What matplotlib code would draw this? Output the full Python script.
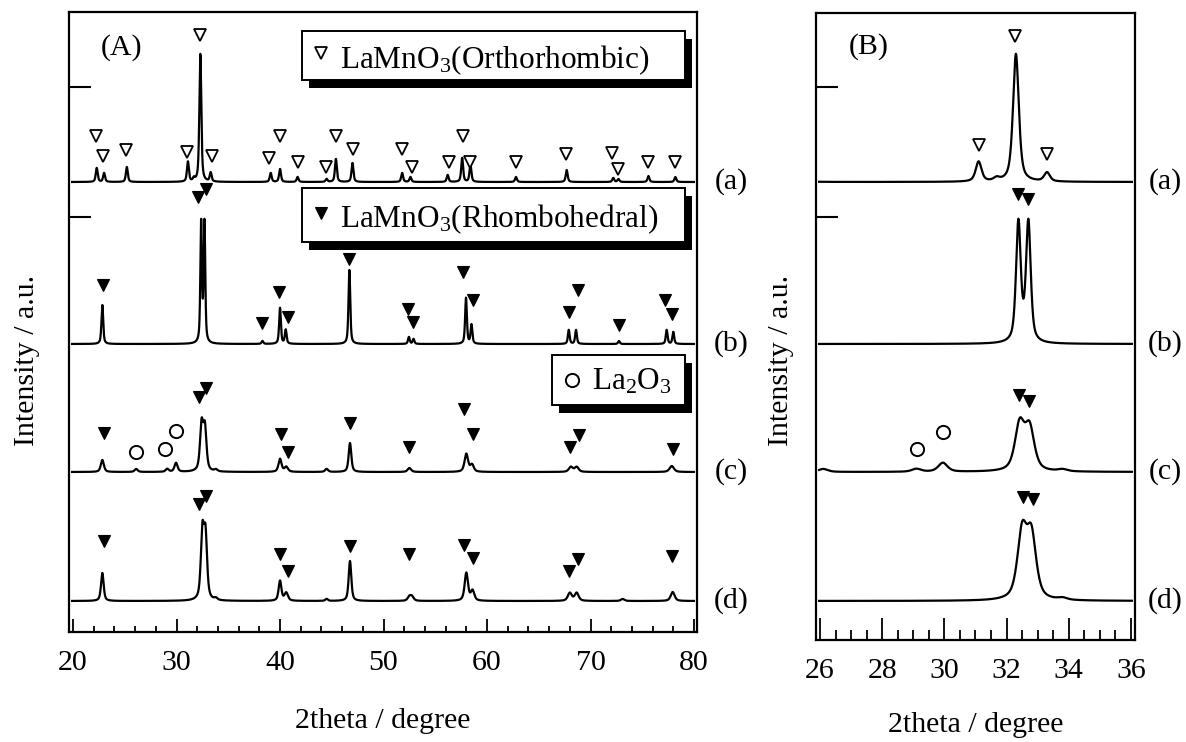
import numpy as np
import matplotlib
matplotlib.use("Agg")
import matplotlib.pyplot as plt
from matplotlib.patches import Rectangle

plt.rcParams['font.family'] = ['Liberation Serif', 'DejaVu Serif']
plt.rcParams['mathtext.fontset'] = 'custom'
plt.rcParams['mathtext.rm'] = 'Liberation Serif'
plt.rcParams['mathtext.default'] = 'regular'

# ---------------- data ----------------
sample_labels = ['(a)', '(b)', '(c)', '(d)']
sample_offsets = [560, 398, 270, 141]          # vertical offsets of the stacked patterns

# peak lists: position (2theta), height (a.u.), fwhm (deg)
a_pos = [22.29, 23.0, 25.2, 31.1, 31.68, 32.30, 33.3, 39.1, 40.0, 41.7, 44.5, 45.4, 47.0,
         51.8, 52.6, 56.2, 57.6, 58.4, 62.8, 67.7, 72.2, 72.7, 75.6, 78.2]
a_hgt = [14, 9, 15, 20, 3, 128, 9, 9, 13, 5, 3, 23, 19,
         9, 5, 7, 24, 17, 5, 12, 4, 3, 6, 5]
a_fwhm = [0.22] * len(a_pos)

b_pos = [22.83, 32.38, 32.70, 38.3, 40.0, 40.55, 46.70, 52.45, 52.9, 57.97, 58.5,
         67.9, 68.6, 72.75, 77.36, 78.0]
b_hgt = [39, 120, 120, 3, 36, 14, 74, 7, 5, 46, 19, 14, 14, 3, 14, 12]
b_fwhm = [0.2, 0.18, 0.18] + [0.2] * 13

c_pos = [22.83, 26.1, 29.1, 29.95, 32.42, 32.74, 33.8, 40.0, 40.6, 44.5, 46.76, 52.5,
         58.0, 58.55, 68.1, 68.66, 77.85]
c_hgt = [12, 3, 3, 9, 46, 42, 2, 13, 5, 3, 29, 4, 18, 7, 5, 5, 6]
c_fwhm = [0.35, 0.35, 0.35, 0.35, 0.36, 0.36, 0.35, 0.35, 0.4, 0.35, 0.3, 0.4,
          0.4, 0.4, 0.45, 0.45, 0.5]

d_pos = [22.83, 32.5, 32.8, 33.8, 40.0, 40.6, 44.5, 46.76, 52.5, 52.75, 58.0, 58.6,
         68.0, 68.66, 73.1, 77.94]
d_hgt = [28, 66, 62, 2, 20, 8, 2, 40, 4, 4, 28, 10, 8, 8, 2, 9]
d_fwhm = [0.3, 0.36, 0.36, 0.35, 0.32, 0.4, 0.3, 0.3, 0.4, 0.4, 0.38, 0.4, 0.45, 0.45, 0.4, 0.45]

# phase markers, panel A: position, height above baseline
a_tri_open_pos = [22.22, 22.93, 25.12, 30.99, 32.27, 33.40, 38.97, 40.0, 41.71, 44.42, 45.41,
                  47.08, 51.76, 52.72, 56.36, 57.71, 58.36, 62.80, 67.60, 72.05, 72.69, 75.58, 78.16]
a_tri_open_hgt = [46, 26, 32, 30, 147, 26, 24, 46, 20, 15, 46, 33, 33, 15, 20, 46, 20, 20,
                  28, 29, 13, 20, 20]
b_tri_pos = [22.93, 32.11, 32.82, 38.29, 39.93, 40.74, 46.70, 52.40, 52.82, 57.71, 58.62,
             67.96, 68.76, 72.75, 77.20, 77.84]
b_tri_hgt = [59, 147, 155, 21, 52, 27, 85, 35, 22, 72, 44, 32, 54, 19, 44, 30]
c_tri_pos = [23.03, 32.2, 32.82, 40.07, 40.81, 46.76, 52.46, 57.81, 58.68, 68.02, 68.89, 77.94]
c_tri_hgt = [39, 75, 84, 38, 20, 49, 25, 63, 38, 25, 37, 23]
c_circ_pos = [26.09, 28.89, 29.95]
c_circ_hgt = [20, 23, 41]
d_tri_pos = [23.03, 32.2, 32.82, 40.0, 40.8, 46.76, 52.46, 57.78, 58.62, 67.96, 68.82, 77.84]
d_tri_hgt = [60, 97, 105, 47, 30, 55, 47, 56, 43, 30, 42, 45]

# phase markers, panel B
aB_tri_open_pos = [31.11, 32.27, 33.29]
aB_tri_open_hgt = [37, 146, 28]
bB_tri_pos = [32.36, 32.68]
bB_tri_hgt = [150, 145]
cB_tri_pos = [32.40, 32.72]
cB_tri_hgt = [77, 71]
cB_circ_pos = [29.13, 29.97]
cB_circ_hgt = [23, 40]
dB_tri_pos = [32.52, 32.86]
dB_tri_hgt = [104, 102]

legend_texts = ['LaMnO$_3$(Orthorhombic)', 'LaMnO$_3$(Rhombohedral)', 'La$_2$O$_3$']

xlimA = (19.61, 80.29)
xlimB = (25.87, 36.13)
yticks_pos = [525, 655]


def pattern(x, pos, hgt, fwhm, eta=0.6):
    y = np.zeros_like(x)
    for p, h, w in zip(pos, hgt, fwhm):
        u = (x - p) / w
        y += h * (eta / (1 + 4 * u ** 2) + (1 - eta) * np.exp(-4 * np.log(2) * u ** 2))
    return y


W, H = 1186, 742
fig = plt.figure(figsize=(W / 100, H / 100), dpi=100)


def px_axes(l, r, t, b):
    return fig.add_axes([l / W, 1 - b / H, (r - l) / W, (b - t) / H])


axA = px_axes(69, 697, 12, 632)
axB = px_axes(816, 1135, 13, 640)

samples = [(a_pos, a_hgt, a_fwhm), (b_pos, b_hgt, b_fwhm), (c_pos, c_hgt, c_fwhm), (d_pos, d_hgt, d_fwhm)]

xA = np.linspace(xlimA[0] + 0.3, xlimA[1] - 0.3, 8000)
xB = np.linspace(xlimB[0] + 0.1, xlimB[1] - 0.1, 3000)
for (pos, hgt, fw), off in zip(samples, sample_offsets):
    axA.plot(xA, off + pattern(xA, pos, hgt, fw), color='black', lw=1.6)
    axB.plot(xB, off + pattern(xB, pos, hgt, fw), color='black', lw=1.6)

tri_ms = 9
open_kw = dict(marker='v', ms=tri_ms, mfc='white', mec='black', mew=1.3, ls='none')
fill_kw = dict(marker='v', ms=tri_ms, mfc='black', mec='black', mew=0.8, ls='none')
circ_kw = dict(marker='o', ms=9.5, mfc='white', mec='black', mew=1.4, ls='none')

oa, ob, oc, od = sample_offsets
axA.plot(a_tri_open_pos, np.array(a_tri_open_hgt) + oa, **open_kw)
axA.plot(b_tri_pos, np.array(b_tri_hgt) + ob, **fill_kw)
axA.plot(c_tri_pos, np.array(c_tri_hgt) + oc, **fill_kw)
axA.plot(c_circ_pos, np.array(c_circ_hgt) + oc, **circ_kw)
axA.plot(d_tri_pos, np.array(d_tri_hgt) + od, **fill_kw)

axB.plot(aB_tri_open_pos, np.array(aB_tri_open_hgt) + oa, **open_kw)
axB.plot(bB_tri_pos, np.array(bB_tri_hgt) + ob, **fill_kw)
axB.plot(cB_tri_pos, np.array(cB_tri_hgt) + oc, **fill_kw)
axB.plot(cB_circ_pos, np.array(cB_circ_hgt) + oc, **circ_kw)
axB.plot(dB_tri_pos, np.array(dB_tri_hgt) + od, **fill_kw)

fs = 21.5
axA.set_xlim(*xlimA)
axA.set_ylim(742 - 632, 742 - 12)
axB.set_xlim(*xlimB)
axB.set_ylim(742 - 640, 742 - 13)

axA.set_xticks(np.arange(20, 81, 10))
axA.set_xticks(np.arange(20, 81, 2), minor=True)
axB.set_xticks(np.arange(26, 37, 2))
axB.set_xticks(np.arange(26, 36.1, 0.5), minor=True)

for ax, maj, mnr in [(axA, 9.5, 4.0), (axB, 16, 7.5)]:
    ax.set_yticks(yticks_pos)
    ax.set_yticklabels([])
    ax.tick_params(axis='x', which='major', direction='in', length=maj, width=1.3,
                   labelsize=fs, pad=13, top=False)
    ax.tick_params(axis='x', which='minor', direction='in', length=mnr, width=1.3, top=False)
    ax.tick_params(axis='y', which='major', direction='in', length=16, width=1.5, right=False)
    for s in ax.spines.values():
        s.set_linewidth(1.6)
    ax.set_xlabel('2theta / degree', fontsize=fs)
    ax.set_ylabel('Intensity / a.u.', fontsize=fs)
    ax.xaxis.label.set_va('center')
    ax.yaxis.label.set_va('center')

axA.xaxis.set_label_coords(0.5, -89 / 620)
axA.yaxis.set_label_coords((27 - 69) / 628, (632 - 360) / 620)
axB.xaxis.set_label_coords(0.5, -85 / 627)
axB.yaxis.set_label_coords((781 - 816) / 319, (640 - 360) / 627)

# overlay in figure pixels for legends and labels
ov = fig.add_axes([0, 0, 1, 1], zorder=10)
ov.set_xlim(0, W)
ov.set_ylim(H, 0)
ov.axis('off')


def legend_box(x0, x1, y0, y1):
    ov.add_patch(Rectangle((x0 + 7, y0 + 8), x1 - x0, y1 - y0, facecolor='black', edgecolor='black', lw=0))
    ov.add_patch(Rectangle((x0, y0), x1 - x0, y1 - y0, facecolor='white', edgecolor='black', lw=1.4))


legend_box(302, 685, 31, 80)
ov.plot([321], [53], **open_kw)
ov.text(340, 68, legend_texts[0], fontsize=22.5, va='baseline', ha='left')

legend_box(302, 685, 188, 242)
ov.plot([321], [213], **fill_kw)
ov.text(340, 227, legend_texts[1], fontsize=22.5, va='baseline', ha='left')

legend_box(552, 685, 355, 405)
ov.plot([572], [380], **circ_kw)
ov.text(592, 390, legend_texts[2], fontsize=22.5, va='baseline', ha='left')

ov.text(122, 48, '(A)', fontsize=fs, ha='center', va='center')
ov.text(869, 47, '(B)', fontsize=fs, ha='center', va='center')

for lab, off in zip(sample_labels, sample_offsets):
    ov.text(731, 742 - off, lab, fontsize=fs, ha='center', va='center')
    ov.text(1165, 742 - off, lab, fontsize=fs, ha='center', va='center')

fig.savefig('out.png', dpi=100)
